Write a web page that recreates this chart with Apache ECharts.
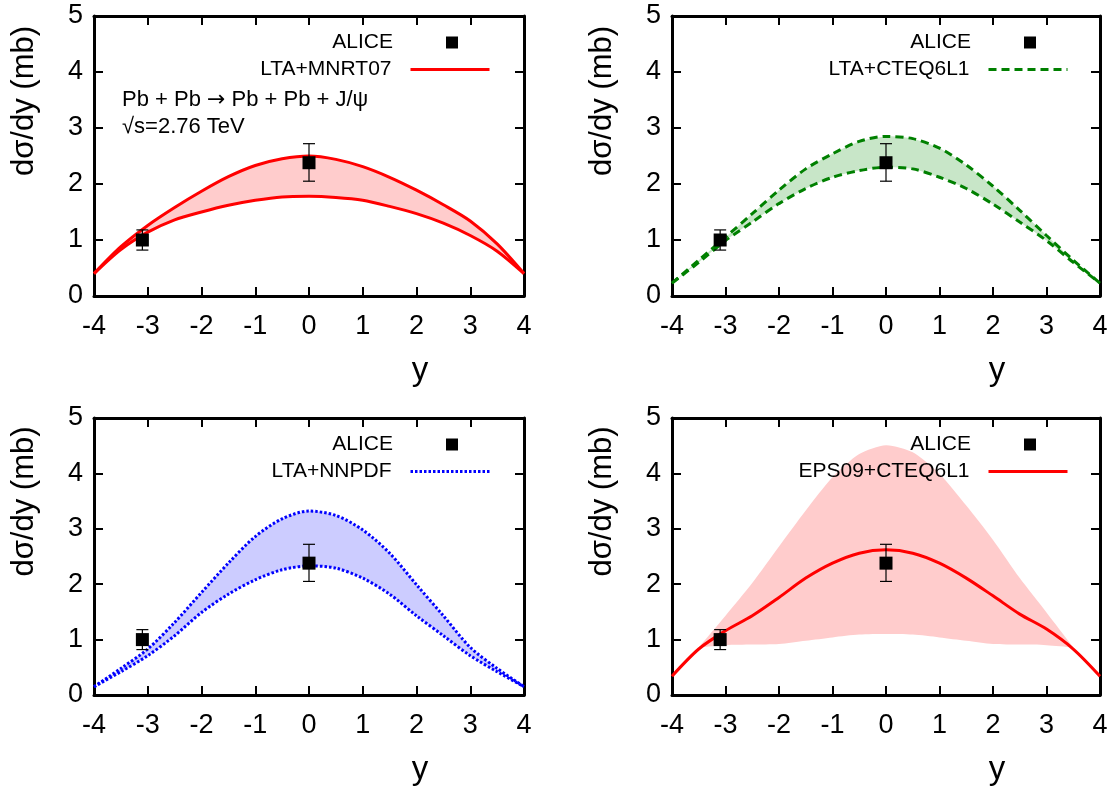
<!DOCTYPE html>
<html>
<head>
<meta charset="utf-8">
<script src="https://cdn.jsdelivr.net/npm/echarts@6/dist/echarts.min.js"></script>
<style>
  html, body { margin: 0; padding: 0; background: #fff; }
  #main { width: 1113px; height: 787px; }
</style>
</head>
<body>
<div id="main"></div>
<script>
// rapidity grid used for all model curves
var rap = [-4, -3.5, -3, -2.5, -2, -1.5, -1, -0.5, 0, 0.5, 1, 1.5, 2, 2.5, 3, 3.5, 4];

// LTA+MNRT07 band
var mnrtUpper = [0.4, 0.88, 1.26, 1.58, 1.87, 2.13, 2.33, 2.45, 2.5, 2.44, 2.31, 2.12, 1.89, 1.63, 1.34, 0.93, 0.4];
var mnrtLower = [0.4, 0.83, 1.14, 1.36, 1.5, 1.62, 1.71, 1.77, 1.78, 1.76, 1.71, 1.6, 1.47, 1.3, 1.08, 0.8, 0.4];

// LTA+CTEQ6L1 band
var cteqUpper = [0.23, 0.64, 1.05, 1.47, 1.89, 2.27, 2.54, 2.76, 2.85, 2.81, 2.64, 2.34, 1.96, 1.53, 1.08, 0.64, 0.23];
var cteqLower = [0.23, 0.6, 0.99, 1.32, 1.65, 1.92, 2.12, 2.24, 2.3, 2.27, 2.12, 1.92, 1.64, 1.32, 0.99, 0.6, 0.23];

// LTA+NNPDF band
var nnpdfUpper = [0.15, 0.48, 0.83, 1.31, 1.85, 2.38, 2.86, 3.18, 3.32, 3.24, 2.98, 2.56, 1.99, 1.43, 0.86, 0.48, 0.15];
var nnpdfLower = [0.15, 0.42, 0.71, 1.07, 1.49, 1.82, 2.08, 2.26, 2.33, 2.29, 2.11, 1.82, 1.43, 1.07, 0.71, 0.42, 0.15];

// EPS09+CTEQ6L1 central curve and its band
var epsCentral = [0.34, 0.83, 1.16, 1.43, 1.76, 2.11, 2.38, 2.56, 2.62, 2.56, 2.38, 2.11, 1.79, 1.46, 1.19, 0.83, 0.34];
var epsRap = [-3.5, -3, -2.5, -2, -1.5, -1, -0.5, 0, 0.5, 1, 1.5, 2, 2.5, 3, 3.5];
var epsUpper = [0.86, 1.43, 2.02, 2.68, 3.33, 3.93, 4.35, 4.51, 4.38, 3.99, 3.42, 2.8, 2.11, 1.49, 0.86];
var epsLower = [0.86, 0.9, 0.91, 0.92, 0.98, 1.04, 1.09, 1.1, 1.09, 1.04, 0.98, 0.92, 0.91, 0.9, 0.86];

// ALICE data points
var aliceRap = [-3.1, 0];
var aliceVal = [1.0, 2.38];
var aliceLow = [0.82, 2.05];
var aliceHigh = [1.18, 2.72];

var FONT = "'Liberation Sans', Arial, sans-serif";
var W = 1113;

var panels = [
  { left: 94,  top: 16,  width: 430, height: 280, name: 'LTA+MNRT07',    color: '#ff0000', fill: '#ffcccc', dash: 'solid' },
  { left: 672, top: 16,  width: 428, height: 280, name: 'LTA+CTEQ6L1',   color: '#008000', fill: '#c8e6c8', dash: [8, 5] },
  { left: 94,  top: 418, width: 430, height: 282, name: 'LTA+NNPDF',     color: '#0000ff', fill: '#ccccff', dash: [2.5, 2] },
  { left: 672, top: 418, width: 428, height: 282, name: 'EPS09+CTEQ6L1', color: '#ff0000', fill: '#ffcccc', dash: 'solid' }
];
var bandX = [rap, rap, rap, epsRap];
var bandUp = [mnrtUpper, cteqUpper, nnpdfUpper, epsUpper];
var bandLo = [mnrtLower, cteqLower, nnpdfLower, epsLower];

function pairs(xa, ya) {
  var out = [];
  for (var i = 0; i < xa.length; i++) out.push([xa[i], ya[i]]);
  return out;
}

// polygon between two curves, mapped through the grid's axes
function bandRenderer(xa, up, lo, fill) {
  return function (params, api) {
    var pts = [];
    for (var i = 0; i < xa.length; i++) pts.push(api.coord([xa[i], up[i]]));
    for (var j = xa.length - 1; j >= 0; j--) pts.push(api.coord([xa[j], lo[j]]));
    return { type: 'polygon', shape: { points: pts, smooth: 0.25 }, style: { fill: fill } };
  };
}

var grid = [], xAxis = [], yAxis = [], series = [], legend = [];

panels.forEach(function (p, k) {
  grid.push({ left: p.left, top: p.top, width: p.width, height: p.height });

  var tick = { show: true, inside: true, length: 9, lineStyle: { color: '#000', width: 2 } };
  var line = { show: true, onZero: false, lineStyle: { color: '#000', width: 3 } };

  xAxis.push({
    type: 'value', gridIndex: k, position: 'bottom', min: -4, max: 4, interval: 1,
    axisLine: line, axisTick: tick, splitLine: { show: false },
    axisLabel: { color: '#000', fontSize: 27, fontFamily: FONT, margin: 17, hideOverlap: false },
    name: 'y', nameLocation: 'middle', nameGap: 58,
    nameTextStyle: { color: '#000', fontSize: 33, fontFamily: FONT, padding: [0, 0, 0, 222] }
  });
  xAxis.push({
    type: 'value', gridIndex: k, position: 'top', min: -4, max: 4, interval: 1,
    axisLine: line, axisTick: tick, splitLine: { show: false }, axisLabel: { show: false }
  });
  yAxis.push({
    type: 'value', gridIndex: k, position: 'left', min: 0, max: 5, interval: 1,
    axisLine: line, axisTick: tick, splitLine: { show: false },
    axisLabel: { color: '#000', fontSize: 27, fontFamily: FONT, margin: 11 },
    name: 'dσ/dy (mb)', nameLocation: 'middle', nameGap: 54,
    nameTextStyle: { color: '#000', fontSize: 31, fontFamily: FONT, padding: [0, 0, 0, 110] }
  });
  yAxis.push({
    type: 'value', gridIndex: k, position: 'right', min: 0, max: 5, interval: 1,
    axisLine: line, axisTick: tick, splitLine: { show: false }, axisLabel: { show: false }
  });

  var xi = k * 2, yi = k * 2;

  // shaded band
  series.push({
    type: 'custom', xAxisIndex: xi, yAxisIndex: yi, data: [[0, 0]], silent: true, z: 1, clip: true,
    renderItem: bandRenderer(bandX[k], bandUp[k], bandLo[k], p.fill)
  });

  var ls = { color: p.color, width: 3, type: p.dash };
  if (k === 3) {
    series.push({ name: p.name, type: 'line', xAxisIndex: xi, yAxisIndex: yi, data: pairs(rap, epsCentral),
      symbol: 'none', smooth: 0.3, lineStyle: ls, itemStyle: { color: p.color }, z: 3 });
  } else {
    series.push({ name: p.name, type: 'line', xAxisIndex: xi, yAxisIndex: yi, data: pairs(rap, bandUp[k]),
      symbol: 'none', smooth: 0.3, lineStyle: ls, itemStyle: { color: p.color }, z: 3 });
    series.push({ name: p.name, type: 'line', xAxisIndex: xi, yAxisIndex: yi, data: pairs(rap, bandLo[k]),
      symbol: 'none', smooth: 0.3, lineStyle: ls, itemStyle: { color: p.color }, z: 3 });
  }

  // error bars
  var eb = [];
  for (var i = 0; i < aliceRap.length; i++) eb.push([aliceRap[i], aliceLow[i], aliceHigh[i]]);
  series.push({
    type: 'custom', xAxisIndex: xi, yAxisIndex: yi, data: eb, silent: true, z: 4,
    renderItem: function (params, api) {
      var lo = api.coord([api.value(0), api.value(1)]);
      var hi = api.coord([api.value(0), api.value(2)]);
      var w = 6, st = { stroke: '#000', lineWidth: 1.2 };
      return { type: 'group', children: [
        { type: 'line', shape: { x1: lo[0], y1: lo[1], x2: hi[0], y2: hi[1] }, style: st },
        { type: 'line', shape: { x1: lo[0] - w, y1: lo[1], x2: lo[0] + w, y2: lo[1] }, style: st },
        { type: 'line', shape: { x1: hi[0] - w, y1: hi[1], x2: hi[0] + w, y2: hi[1] }, style: st }
      ] };
    }
  });
  series.push({
    name: 'ALICE', type: 'scatter', xAxisIndex: xi, yAxisIndex: yi, data: pairs(aliceRap, aliceVal),
    symbol: 'rect', symbolSize: 13, itemStyle: { color: '#000', opacity: 1 }, z: 5
  });

  // gnuplot-style key: text on the left, sample on the right
  var iconRight = p.left + 364;
  legend.push({
    data: [{ name: 'ALICE', icon: 'rect', itemStyle: { color: '#000', opacity: 1 } }],
    right: W - iconRight, top: p.top + 16, align: 'right', padding: 0,
    itemWidth: 12, itemHeight: 12, selectedMode: false,
    textStyle: { color: '#000', fontSize: 21, fontFamily: FONT, padding: [0, 48, 0, 0] }
  });
  legend.push({
    data: [{ name: p.name, itemStyle: { opacity: 0 }, lineStyle: { width: 3 } }],
    right: W - (p.left + 397), top: p.top + 43, align: 'right', padding: 0,
    itemWidth: 79, itemHeight: 14, selectedMode: false,
    textStyle: { color: '#000', fontSize: 21, fontFamily: FONT, padding: [0, 14, 0, 0] }
  });
});

var option = {
  animation: false,
  backgroundColor: '#fff',
  grid: grid,
  xAxis: xAxis,
  yAxis: yAxis,
  legend: legend,
  series: series,
  graphic: [
    { type: 'text', left: 122, top: 89, style: {
      text: '{a|Pb + Pb }{b|\u2192}{a| Pb + Pb + J/\u03c8}', fill: '#000',
      rich: { a: { fontSize: 22, fontFamily: FONT, fill: '#000' }, b: { fontSize: 22, fontFamily: 'DejaVu Sans', fill: '#000' } }
    } },
    { type: 'text', left: 122, top: 116, style: { text: '\u221as=2.76 TeV', font: '22px ' + FONT, fill: '#000' } }
  ]
};

var myChart = echarts.init(document.getElementById('main'));
myChart.setOption(option, true);
</script>
</body>
</html>
